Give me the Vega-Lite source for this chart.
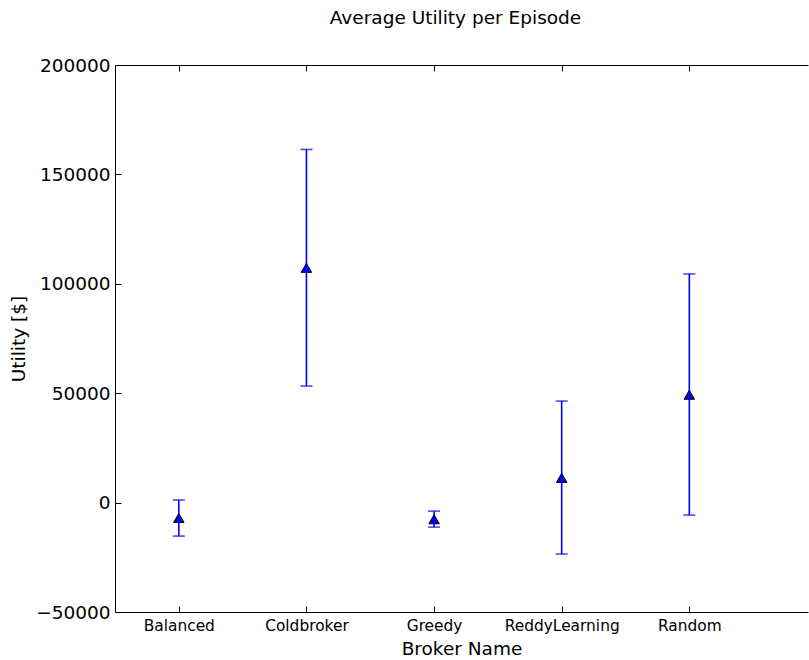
{
  "$schema": "https://vega.github.io/schema/vega-lite/v6.json",
  "width": 693,
  "height": 547,
  "autosize": "none",
  "padding": {"left": 115, "top": 65, "right": 1, "bottom": 48},
  "background": "white",
  "config": {
    "view": {"stroke": null},
    "font": "DejaVu Sans",
    "axis": {"grid": false, "domainColor": "black", "tickColor": "black", "labelColor": "black", "titleColor": "black", "labelFont": "DejaVu Sans", "titleFont": "DejaVu Sans", "titleFontWeight": "normal", "domainWidth": 1, "tickWidth": 1}
  },
  "title": {"text": "Average Utility per Episode", "fontSize": 18.5, "fontWeight": "normal", "font": "DejaVu Sans", "color": "black", "offset": 29, "dx": -6},
  "data": {"values": [
    {"idx": 0, "broker": "Balanced", "mean": -7000, "lower": -15300, "upper": 1200},
    {"idx": 1, "broker": "Coldbroker", "mean": 107300, "lower": 53300, "upper": 161400},
    {"idx": 2, "broker": "Greedy", "mean": -7600, "lower": -11200, "upper": -3900},
    {"idx": 3, "broker": "ReddyLearning", "mean": 11300, "lower": -23500, "upper": 46400},
    {"idx": 4, "broker": "Random", "mean": 49300, "lower": -5700, "upper": 104500}
  ]},
  "layer": [
    {
      "mark": {"type": "rule", "color": "#0000ff", "strokeWidth": 1.6},
      "encoding": {
        "x": {"field": "idx", "type": "quantitative", "scale": {"domain": [-0.5, 4.93], "nice": false, "zero": false},
          "axis": {"orient": "bottom", "title": "Broker Name", "titleFontSize": 18.5, "titlePadding": 6, "values": [0, 1, 2, 3, 4], "labelExpr": "['Balanced','Coldbroker','Greedy','ReddyLearning','Random'][datum.value]", "labelFontSize": 15.4, "tickSize": -6, "labelPadding": 12, "labelFlush": false}},
        "y": {"field": "lower", "type": "quantitative", "scale": {"domain": [-50000, 200000], "nice": false},
          "axis": {"title": "Utility [$]", "titleFontSize": 18.5, "titlePadding": 7, "values": [-50000, 0, 50000, 100000, 150000, 200000], "format": "d", "labelFontSize": 18.5, "tickSize": -6, "labelPadding": 11}},
        "y2": {"field": "upper"}
      }
    },
    {
      "mark": {"type": "tick", "orient": "horizontal", "color": "#0000ff", "size": 12, "thickness": 1.6},
      "encoding": {"x": {"field": "idx", "type": "quantitative", "axis": null}, "y": {"field": "lower", "type": "quantitative"}}
    },
    {
      "mark": {"type": "tick", "orient": "horizontal", "color": "#0000ff", "size": 12, "thickness": 1.6},
      "encoding": {"x": {"field": "idx", "type": "quantitative", "axis": null}, "y": {"field": "upper", "type": "quantitative"}}
    },
    {
      "mark": {"type": "point", "shape": "triangle-up", "filled": true, "fill": "#0000ff", "stroke": "black", "strokeWidth": 1, "size": 110, "opacity": 1},
      "encoding": {"x": {"field": "idx", "type": "quantitative", "axis": null}, "y": {"field": "mean", "type": "quantitative"}}
    },
    {
      "mark": {"type": "rule", "opacity": 0},
      "encoding": {
        "x": {"field": "idx", "type": "quantitative", "axis": {"orient": "top", "title": null, "labels": false, "values": [0, 1, 2, 3, 4], "tickSize": -6}}
      }
    }
  ],
  "resolve": {"axis": {"x": "independent"}}
}
